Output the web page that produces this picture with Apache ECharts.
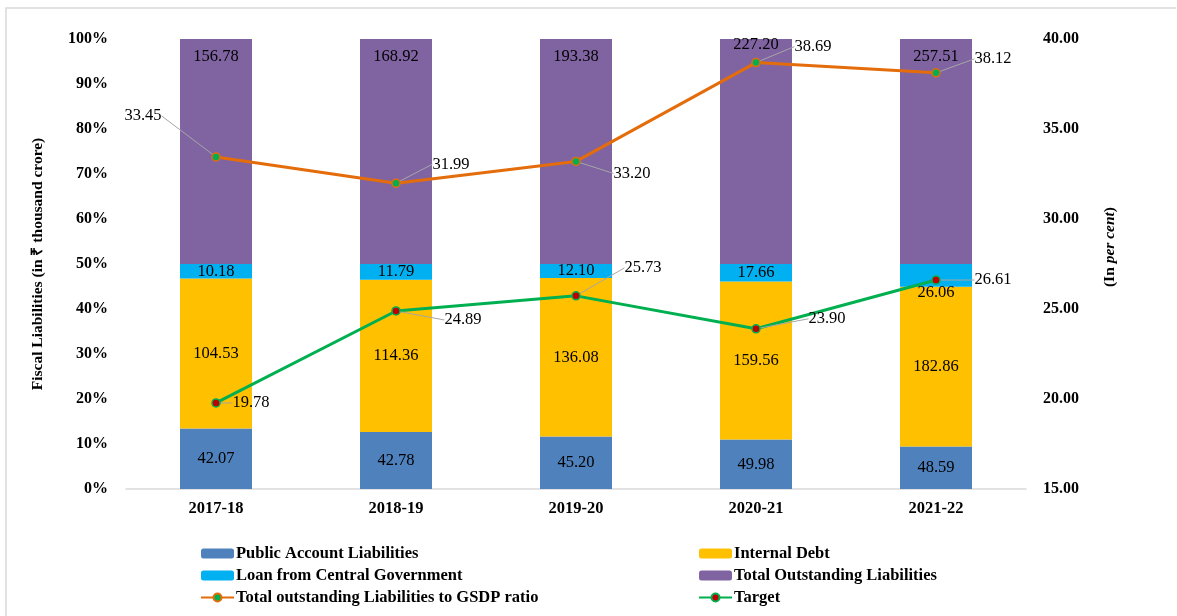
<!DOCTYPE html>
<html><head><meta charset="utf-8">
<script src="https://cdn.jsdelivr.net/npm/echarts@6/dist/echarts.min.js"></script>
<style>html,body{margin:0;padding:0;background:#fff}#c{width:1177px;height:616px}</style>
</head><body><div id="c"></div>
<script>
var categories = ['2017-18','2018-19','2019-20','2020-21','2021-22'];
var publicAccount = [42.07, 42.78, 45.20, 49.98, 48.59];
var internalDebt = [104.53, 114.36, 136.08, 159.56, 182.86];
var loanCentral = [10.18, 11.79, 12.10, 17.66, 26.06];
var totalOutstanding = [156.78, 168.92, 193.38, 227.20, 257.51];
var gsdpRatio = [33.45, 31.99, 33.20, 38.69, 38.12];
var target = [19.78, 24.89, 25.73, 23.90, 26.61];

var FONT = '"Liberation Serif", "Times New Roman", serif';
var sums = categories.map(function(_, i){ return publicAccount[i]+internalDebt[i]+loanCentral[i]+totalOutstanding[i]; });
function pct(arr, offsets){
  return arr.map(function(v,i){
    var d = {value: v/sums[i]*100, raw: v};
    if (offsets && offsets[i]) d.label = {offset: offsets[i]};
    return d;
  });
}
function barLabel(pos, dist){
  return {show:true, position:pos, distance:dist||5, color:'#000', fontFamily:FONT, fontSize:16.5,
    formatter:function(p){ return p.data.raw.toFixed(2); }};
}

// label shifts (dx, dy) of line labels relative to their point
var gsdpShift = [[-73,-41],[55,-19],[56,12],[57,-16],[57,-14]];
var targetShift = [[35,0],[67,9],[67,-28],[71,-10],[57,0]];

function lineSeries(name, data, color, markColor, shifts){
  return {
    name:name, type:'line', yAxisIndex:1, data:data, z:5,
    symbol:'circle', symbolSize:8,
    lineStyle:{color:color, width:3},
    itemStyle:{color:markColor, borderColor:color, borderWidth:1.5},
    label:{show:true, position:'inside', color:'#000', fontFamily:FONT, fontSize:16.5,
      formatter:function(p){ return p.value.toFixed(2); }},
    labelLine:{show:true, lineStyle:{color:'#A6A6A6', width:1}},
    labelLayout:function(p){
      var s = shifts[p.dataIndex];
      return {dx:s[0], dy:s[1]};
    }
  };
}

var legendText = {fontFamily:FONT, fontWeight:'bold', fontSize:16.5, color:'#000', padding:[0,0,0,-3]};
var chart = echarts.init(document.getElementById('c'));
chart.setOption({
  animation:false,
  backgroundColor:'#fff',
  grid:{left:126, right:151, top:39, bottom:127},
  graphic:[{type:'polyline', shape:{points:[[6,616],[6,8],[1176,8]]}, style:{stroke:'#D9D9D9', fill:null, lineWidth:1.5}, silent:true}],
  legend:[
    {left:195, top:540, height:90, orient:'vertical', itemWidth:33, itemHeight:10, itemGap:5,
     textStyle:legendText,
     data:['Public Account Liabilities','Loan from Central Government','Total outstanding Liabilities to GSDP ratio']},
    {left:693, top:540, height:90, orient:'vertical', itemWidth:33, itemHeight:10, itemGap:5,
     textStyle:legendText,
     data:['Internal Debt','Total Outstanding Liabilities','Target']}
  ],
  xAxis:{type:'category', data:categories,
    axisLine:{lineStyle:{color:'#D9D9D9', width:1.5}}, axisTick:{show:false},
    axisLabel:{fontFamily:FONT, fontWeight:'bold', fontSize:16.5, color:'#000', margin:11}},
  yAxis:[
    {type:'value', min:0, max:100, interval:10,
     name:'Fiscal Liabilities (in ₹ thousand crore)', nameLocation:'middle', nameGap:80, nameRotate:90,
     nameTextStyle:{fontFamily:FONT, fontWeight:'bold', fontSize:15.5, color:'#000'},
     axisLine:{show:false}, axisTick:{show:false}, splitLine:{show:false},
     axisLabel:{fontFamily:FONT, fontWeight:'bold', fontSize:16, color:'#000', margin:18,
       formatter:function(v){ return v+'%'; }}},
    {type:'value', min:15, max:40, interval:5, position:'right',
     name:'{b|(In }{i|per cent}{b|)}', nameLocation:'middle', nameGap:76, nameRotate:90,
     nameTextStyle:{padding:[0,0,0,34], rich:{
       b:{fontFamily:FONT, fontWeight:'bold', fontSize:15.5, color:'#000'},
       i:{fontFamily:FONT, fontWeight:'bold', fontStyle:'italic', fontSize:15.5, color:'#000'}}},
     axisLine:{show:false}, axisTick:{show:false}, splitLine:{show:false},
     axisLabel:{fontFamily:FONT, fontWeight:'bold', fontSize:16, color:'#000', margin:17,
       formatter:function(v){ return v.toFixed(2); }}}
  ],
  series:[
    {name:'Public Account Liabilities', type:'bar', stack:'s', barWidth:72, data:pct(publicAccount),
     itemStyle:{color:'#4F81BD'}, label:barLabel('inside')},
    {name:'Internal Debt', type:'bar', stack:'s', data:pct(internalDebt),
     itemStyle:{color:'#FFC000'}, label:barLabel('inside')},
    {name:'Loan from Central Government', type:'bar', stack:'s', data:pct(loanCentral, [null,null,null,null,[0,17]]),
     itemStyle:{color:'#00B0F0'}, label:barLabel('inside')},
    {name:'Total Outstanding Liabilities', type:'bar', stack:'s', data:pct(totalOutstanding, [null,null,null,[0,-12],null]),
     itemStyle:{color:'#8064A2'}, label:barLabel('insideTop', 9)},
    lineSeries('Total outstanding Liabilities to GSDP ratio', gsdpRatio, '#E46C0A', '#00B050', gsdpShift),
    lineSeries('Target', target, '#00B050', '#C00000', targetShift)
  ]
});
</script></body></html>
